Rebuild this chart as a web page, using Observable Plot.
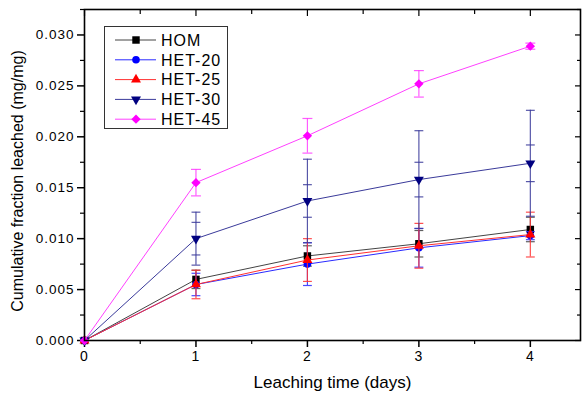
<!DOCTYPE html>
<html><head><meta charset="utf-8">
<script src="https://cdn.jsdelivr.net/npm/d3@7"></script>
<script src="https://cdn.jsdelivr.net/npm/@observablehq/plot@0.6"></script>
<style>
body{margin:0;background:#fff;}
#chart{width:582px;height:394px;}
g[aria-label="y-axis tick label"] text{letter-spacing:1px;}
g[aria-label="x-axis tick label"] text{letter-spacing:1px;}
</style></head><body><div id="chart"></div>
<script>
// ---- data ----
const days = [0, 1, 2, 3, 4];
const seriesNames = ["HOM", "HET-20", "HET-25", "HET-30", "HET-45"];
const homValues   = [0, 0.0060, 0.0083, 0.0095, 0.0109];
const het20Values = [0, 0.0055, 0.0075, 0.0091, 0.0103];
const het25Values = [0, 0.0055, 0.0079, 0.0093, 0.0104];
const het30Values = [0, 0.0100, 0.0137, 0.0158, 0.0174];
const het45Values = [0, 0.0155, 0.0201, 0.0252, 0.0289];
const homErr      = [0, 0.0009, 0.0010, 0.0013, 0.0012];
const het20Err    = [0, 0.0011, 0.0021, 0.0019, 0.0004];
const het25Err    = [0, 0.0014, 0.0021, 0.0022, 0.0022];
const het30Err    = [0, 0.0026, 0.0041, 0.0048, 0.0052];
const het30ErrInner = [0, 0.0016, 0.0016, 0.0017, 0.0018];
const het45Err    = [0, 0.0013, 0.0017, 0.0013, 0.0003];
const yTicks = [0, 0.005, 0.010, 0.015, 0.020, 0.025, 0.030];
const yMinorTicks = [0.0025, 0.0075, 0.0125, 0.0175, 0.0225, 0.0275, 0.0325];
const xTicks = [0, 1, 2, 3, 4];
const xMinorTicks = [0.5, 1.5, 2.5, 3.5];
const xTitle = "Leaching time (days)";
const yTitle = "Cumulative fraction leached (mg/mg)";

// ---- styles ----
const colors = ["#000000", "#0000ff", "#ff0000", "#000080", "#ff00ff"];
const lineColors = ["#444444", "#2a2aff", "#ff3030", "#3a3a9a", "#ff40ff"];
const symbols = ["square", "circle", "triangle", "triangle", "diamond2"];
const rotations = [0, 0, 0, 180, 0];
const radii = [4.2, 3.8, 3.7, 3.7, 4.2];

const valuesList = [homValues, het20Values, het25Values, het30Values, het45Values];
const errList = [homErr, het20Err, het25Err, het30Err, het45Err];
const innerErrList = [null, null, null, het30ErrInner, null];

const capSymbol = {draw(ctx, size) { const w = Math.sqrt(size) / 2; ctx.moveTo(-w, 0); ctx.lineTo(w, 0); }};

const seriesMarks = seriesNames.flatMap((name, i) => {
  const rows = days.map((d, j) => ({day: d, v: valuesList[i][j], e: errList[i][j], ei: innerErrList[i] ? innerErrList[i][j] : 0}));
  const withErr = rows.filter(r => r.e > 0);
  const caps = withErr.flatMap(r => [r.v - r.e, r.v + r.e].map(y => ({day: r.day, y})));
  const innerCaps = rows.filter(r => r.ei > 0).flatMap(r => [r.v - r.ei, r.v + r.ei].map(y => ({day: r.day, y})));
  return [
    Plot.line(rows, {x: "day", y: "v", stroke: lineColors[i], strokeWidth: 1}),
    Plot.ruleX(withErr, {x: "day", y1: r => r.v - r.e, y2: r => r.v + r.e, stroke: lineColors[i], strokeWidth: 1.2, strokeOpacity: 0.85}),
    Plot.dot(caps, {x: "day", y: "y", symbol: capSymbol, r: i === 4 ? 5.6 : 5, stroke: lineColors[i], fill: "none", strokeWidth: 1.2, strokeOpacity: 0.85}),
    Plot.dot(innerCaps, {x: "day", y: "y", symbol: capSymbol, r: 5, stroke: lineColors[i], fill: "none", strokeWidth: 1.2, strokeOpacity: 0.85}),
    Plot.dot(rows, {x: "day", y: "v", symbol: symbols[i], r: radii[i], fill: colors[i], stroke: "none", rotate: rotations[i]})
  ];
});

const blank = () => "";
const chart = Plot.plot({
  width: 582, height: 394,
  marginLeft: 84, marginRight: 2, marginTop: 9, marginBottom: 54,
  style: {fontFamily: "'Liberation Sans', Arial, sans-serif", background: "#fff", color: "#000"},
  x: {domain: [0, 4.45]},
  y: {domain: [0, 0.0325]},
  marks: [
    Plot.axisX({ticks: xTicks, tickSize: 7, tickPadding: 4, strokeWidth: 1.5, fontSize: 14, tickFormat: d3.format("d"), label: null}),
    Plot.axisX({ticks: xMinorTicks, tickSize: 4, strokeWidth: 1.2, tickFormat: blank, label: null}),
    Plot.axisX({anchor: "top", ticks: xTicks, tickSize: 6, dy: 6, strokeWidth: 1.2, tickFormat: blank, label: null}),
    Plot.axisX({anchor: "top", ticks: xMinorTicks, tickSize: 4, dy: 4, strokeWidth: 1.2, tickFormat: blank, label: null}),
    Plot.axisY({ticks: yTicks, tickSize: 7, tickPadding: 3, strokeWidth: 1.5, fontSize: 13.5, tickFormat: d3.format(".3f"), label: null}),
    Plot.axisY({ticks: yMinorTicks, tickSize: 4, strokeWidth: 1.2, tickFormat: blank, label: null}),
    Plot.axisY({anchor: "right", ticks: yTicks, tickSize: 6, dx: -6, strokeWidth: 1.2, tickFormat: blank, label: null}),
    Plot.axisY({anchor: "right", ticks: yMinorTicks, tickSize: 4, dx: -4, strokeWidth: 1.2, tickFormat: blank, label: null}),
    ...seriesMarks,
    Plot.frame({stroke: "#000", strokeWidth: 1.6}),
    Plot.text([xTitle], {text: d => d, frameAnchor: "bottom", dy: 42, lineAnchor: "middle", textAnchor: "middle", fontSize: 17, fill: "#000"}),
    Plot.text([yTitle], {text: d => d, frameAnchor: "left", dx: -67, dy: 6, rotate: -90, textAnchor: "middle", lineAnchor: "middle", fontSize: 16, fill: "#000"})
  ]
});
document.getElementById("chart").appendChild(chart);

// ---- legend ----
const svg = d3.select(chart);
const leg = svg.append("g").attr("aria-label", "legend").attr("text-anchor", "start");
leg.append("rect").attr("x", 104.5).attr("y", 26.5).attr("width", 123).attr("height", 102)
  .attr("fill", "#fff").attr("stroke", "#333").attr("stroke-width", 1);
const d3Symbols = [d3.symbolSquare, d3.symbolCircle, d3.symbolTriangle, d3.symbolTriangle, d3.symbolDiamond2];
seriesNames.forEach((name, i) => {
  const y = 40 + i * 19.8;
  leg.append("line").attr("x1", 115).attr("x2", 156).attr("y1", y).attr("y2", y)
    .attr("stroke", lineColors[i]).attr("stroke-width", 1);
  leg.append("path").attr("d", d3.symbol(d3Symbols[i], Math.PI * radii[i] * radii[i])())
    .attr("transform", `translate(136,${y}) rotate(${rotations[i]})`).attr("fill", colors[i]);
  leg.append("text").attr("x", 161).attr("y", y).attr("dy", "0.36em").attr("text-anchor", "start")
    .attr("font-size", 16).attr("letter-spacing", "1px").attr("fill", "#000").text(name);
});
</script></body></html>
